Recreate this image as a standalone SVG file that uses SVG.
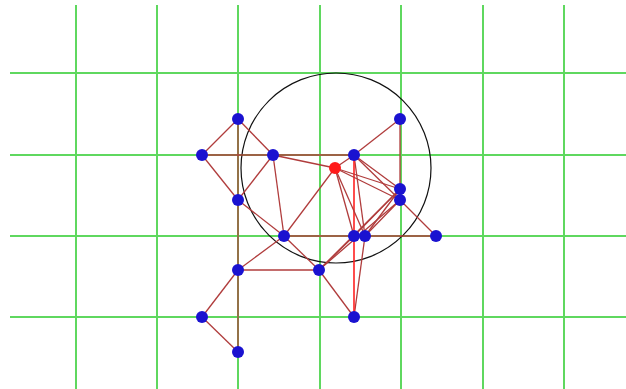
<svg xmlns="http://www.w3.org/2000/svg" width="626" height="389" viewBox="0 0 626 389">
<style>
.grid line{stroke:#5fd85f;stroke-width:2}
.e{stroke:#b03c3c;stroke-width:1.3;fill:none}
.r{stroke:#ff2020;stroke-width:1.6;fill:none}
.n{fill:#1a12d0}
.h{fill:#ff1a1a}
</style>
<rect width="626" height="389" fill="#fff"/>
<g class="grid">
<line x1="76" y1="5" x2="76" y2="389"/>
<line x1="157" y1="5" x2="157" y2="389"/>
<line x1="238" y1="5" x2="238" y2="389"/>
<line x1="320" y1="5" x2="320" y2="389"/>
<line x1="401" y1="5" x2="401" y2="389"/>
<line x1="483" y1="5" x2="483" y2="389"/>
<line x1="564" y1="5" x2="564" y2="389"/>
<line x1="10" y1="73" x2="626" y2="73"/>
<line x1="10" y1="155" x2="626" y2="155"/>
<line x1="10" y1="236" x2="626" y2="236"/>
<line x1="10" y1="317" x2="626" y2="317"/>
</g>
<circle cx="336" cy="168" r="95" fill="none" stroke="#111" stroke-width="1.2"/>
<g id="connectors">
<line class="e" x1="238" y1="119" x2="202" y2="155"/>
<line class="e" x1="238" y1="119" x2="273" y2="155"/>
<line class="e" x1="238" y1="119" x2="238" y2="352"/>
<line class="e" x1="202" y1="155" x2="238" y2="200"/>
<line class="e" x1="202" y1="155" x2="354" y2="155"/>
<line class="e" x1="273" y1="155" x2="238" y2="200"/>
<line class="e" x1="273" y1="155" x2="335" y2="168"/>
<line class="e" x1="273" y1="155" x2="284" y2="236"/>
<line class="e" x1="238" y1="200" x2="284" y2="236"/>
<line class="e" x1="284" y1="236" x2="335" y2="168"/>
<line class="e" x1="284" y1="236" x2="319" y2="270"/>
<line class="e" x1="284" y1="236" x2="238" y2="270"/>
<line class="e" x1="284" y1="236" x2="436" y2="236"/>
<line class="e" x1="238" y1="270" x2="319" y2="270"/>
<line class="e" x1="238" y1="270" x2="202" y2="317"/>
<line class="e" x1="202" y1="317" x2="238" y2="352"/>
<line class="e" x1="319" y1="270" x2="354" y2="317"/>
<line class="e" x1="319" y1="270" x2="354" y2="236"/>
<line class="e" x1="319" y1="270" x2="400" y2="189"/>
<line class="e" x1="319" y1="270" x2="400" y2="200"/>
<line class="e" x1="354" y1="155" x2="400" y2="119"/>
<line class="e" x1="354" y1="155" x2="335" y2="168"/>
<line class="e" x1="354" y1="155" x2="400" y2="189"/>
<line class="e" x1="354" y1="155" x2="400" y2="200"/>
<line class="e" x1="354" y1="155" x2="365" y2="236"/>
<line class="r" x1="354" y1="155" x2="354" y2="236"/>
<line class="e" x1="400" y1="119" x2="400" y2="200"/>
<line class="e" x1="335" y1="168" x2="400" y2="189"/>
<line class="e" x1="335" y1="168" x2="400" y2="200"/>
<line class="e" x1="335" y1="168" x2="354" y2="236"/>
<line class="e" x1="335" y1="168" x2="365" y2="236"/>
<line class="e" x1="400" y1="200" x2="436" y2="236"/>
<line class="e" x1="400" y1="189" x2="365" y2="236"/>
<line class="e" x1="400" y1="189" x2="354" y2="236"/>
<line class="e" x1="400" y1="200" x2="365" y2="236"/>
<line class="e" x1="365" y1="236" x2="354" y2="317"/>
<line class="r" x1="354" y1="236" x2="354" y2="317"/>
</g>
<g id="nA"><circle class="n" cx="238" cy="119" r="6"/></g>
<g id="nB"><circle class="n" cx="202" cy="155" r="6"/></g>
<g id="nC"><circle class="n" cx="273" cy="155" r="6"/></g>
<g id="nD"><circle class="n" cx="238" cy="200" r="6"/></g>
<g id="nE"><circle class="n" cx="284" cy="236" r="6"/></g>
<g id="nF"><circle class="n" cx="354" cy="155" r="6"/></g>
<g id="nG"><circle class="n" cx="400" cy="119" r="6"/></g>
<g id="nH"><circle class="h" cx="335" cy="168" r="6"/></g>
<g id="nI"><circle class="n" cx="400" cy="189" r="6"/></g>
<g id="nJ"><circle class="n" cx="400" cy="200" r="6"/></g>
<g id="nK"><circle class="n" cx="354" cy="236" r="6"/></g>
<g id="nL"><circle class="n" cx="365" cy="236" r="6"/></g>
<g id="nM"><circle class="n" cx="436" cy="236" r="6"/></g>
<g id="nN"><circle class="n" cx="238" cy="270" r="6"/></g>
<g id="nO"><circle class="n" cx="319" cy="270" r="6"/></g>
<g id="nP"><circle class="n" cx="202" cy="317" r="6"/></g>
<g id="nQ"><circle class="n" cx="354" cy="317" r="6"/></g>
<g id="nR"><circle class="n" cx="238" cy="352" r="6"/></g>
</svg>
